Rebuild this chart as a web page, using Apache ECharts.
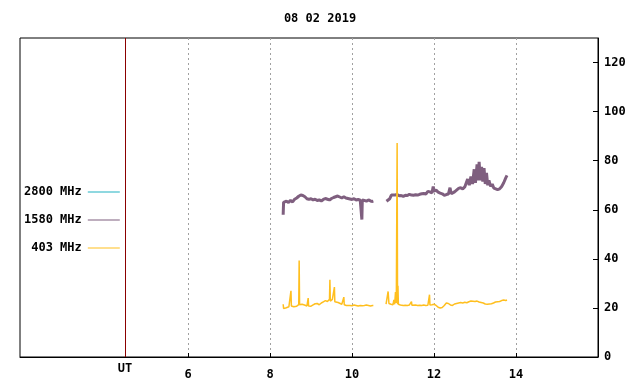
<!DOCTYPE html>
<html>
<head>
<meta charset="utf-8">
<script src="https://cdn.jsdelivr.net/npm/echarts@6/dist/echarts.min.js"></script>
<style>
  html, body { margin: 0; padding: 0; background: #fff; }
  #chart { width: 640px; height: 384px; }
</style>
</head>
<body>
<div id="chart"></div>
<script>
// chart text
const titleText = '08 02 2019';
const seriesNames = ['2800 MHz', '1580 MHz', ' 403 MHz'];
const xTicks = [6, 8, 10, 12, 14];
const utHour = 4.46;

// 1580 MHz (hours UT / values), null = gap
const t1580 = [8.32, 8.33, 8.40, 8.45, 8.50, 8.55, 8.60, 8.65, 8.70, 8.75, 8.80, 8.85, 8.90, 8.95,
  9.00, 9.05, 9.10, 9.15, 9.20, 9.25, 9.30, 9.35, 9.40, 9.45, 9.50, 9.55, 9.60, 9.65, 9.70, 9.75,
  9.80, 9.85, 9.90, 9.95, 10.00, 10.05, 10.10, 10.15, 10.20, 10.23, 10.24, 10.25, 10.30, 10.35,
  10.40, 10.45, 10.50, 10.52, 10.68,
  10.84, 10.88, 10.92, 10.96, 11.00, 11.05, 11.10, 11.15, 11.20, 11.25, 11.30, 11.35, 11.40, 11.45,
  11.50, 11.55, 11.60, 11.65, 11.70, 11.75, 11.80, 11.85, 11.90, 11.95, 11.98, 12.00, 12.05, 12.10,
  12.15, 12.20, 12.25, 12.30, 12.35, 12.39, 12.42, 12.45, 12.50, 12.55, 12.60, 12.65, 12.70, 12.75,
  12.78, 12.82, 12.86, 12.90, 12.94, 12.98, 13.01, 13.05, 13.08, 13.10, 13.13, 13.16, 13.19, 13.22,
  13.25, 13.28, 13.31, 13.34, 13.38, 13.42, 13.46, 13.50, 13.55, 13.60, 13.65, 13.70, 13.75, 13.78];
const v1580 = [58, 63, 63.5, 63, 63.8, 63.2, 64.3, 64.8, 65.5, 66, 65.8, 65.3, 64.5, 64.2,
  64.5, 64, 64.3, 63.8, 64, 63.6, 64.2, 64.6, 64.3, 64, 64.6, 65, 65.3, 65.6, 65.2, 64.8,
  65.3, 64.8, 64.6, 64.4, 64.2, 64.5, 64, 64.2, 63.9, 64, 56, 64, 63.8, 63.5,
  64, 63.6, 63.4, 63.5, null,
  63.5, 63, 64.5, 66, 66.5, 66, 66.2, 65.7, 65.8, 65.5, 65.9, 65.8, 66.3, 66,
  65.9, 66.1, 66, 66.3, 66.5, 66.6, 66.4, 67.5, 67.3, 66.8, 69.5, 67.6, 68, 67.2,
  66.8, 66.5, 65.9, 66.2, 66.4, 69, 66.5, 67, 67.3, 68, 68.7, 69, 68.5, 69.3,
  70, 72.5, 70, 73.5, 70.5, 76.5, 71, 78.5, 72, 79.5, 72, 77.5, 71.5, 77,
  70.5, 75, 70, 72, 69.5, 70.5, 68.8, 69.3, 68.2, 68.5, 69.5, 71, 73, 74];

// 403 MHz
const t403 = [8.32, 8.33, 8.38, 8.42, 8.46, 8.50, 8.51, 8.52, 8.58, 8.65, 8.70, 8.71, 8.72, 8.78,
  8.84, 8.90, 8.93, 8.94, 9.00, 9.05, 9.10, 9.15, 9.20, 9.25, 9.30, 9.35, 9.40, 9.45, 9.46, 9.47,
  9.52, 9.56, 9.57, 9.58, 9.62, 9.66, 9.70, 9.75, 9.80, 9.81, 9.86, 9.90, 9.95, 10.00, 10.05,
  10.10, 10.15, 10.20, 10.25, 10.30, 10.35, 10.40, 10.45, 10.50, 10.52, 10.68,
  10.83, 10.86, 10.88, 10.90, 10.95, 11.00, 11.02, 11.04, 11.06, 11.08, 11.10, 11.11, 11.12, 11.13,
  11.18, 11.25, 11.30, 11.35, 11.40, 11.45, 11.46, 11.50, 11.55, 11.60, 11.65, 11.70, 11.75, 11.80,
  11.85, 11.89, 11.90, 11.95, 12.00, 12.05, 12.10, 12.15, 12.20, 12.25, 12.30, 12.35, 12.40, 12.45,
  12.50, 12.55, 12.60, 12.65, 12.70, 12.75, 12.80, 12.85, 12.90, 12.95, 13.00, 13.05, 13.10, 13.15,
  13.20, 13.25, 13.30, 13.35, 13.40, 13.45, 13.50, 13.55, 13.60, 13.65, 13.70, 13.75, 13.78];
const v403 = [21.5, 19.8, 20, 20.2, 20.5, 21, 27, 20.8, 20.5, 20.7, 21.3, 39.3, 21.3, 21.5,
  21.2, 20.8, 24, 20.8, 20.7, 21.2, 21.7, 21.8, 21.3, 22, 22.5, 23, 22.6, 23.5, 31.5, 22.8,
  23.5, 22.8, 28.5, 22.5, 22, 22.2, 21.8, 21.5, 24.4, 21.3, 21, 21.2, 21, 20.9, 21.2,
  21, 20.8, 21, 20.9, 21, 21.2, 21, 20.8, 21, 21, null,
  21.5, 22, 26.7, 21.8, 21.5, 21.3, 23.3, 21.5, 26.5, 22, 87.2, 21.5, 29, 21.5,
  21.2, 21, 21.1, 21, 21.2, 22.6, 21.1, 21, 21.2, 21, 21.1, 21, 21.2, 21,
  21.1, 25.4, 21.2, 21.3, 21.5, 21, 20.3, 20, 20.2, 21, 22, 21.8, 21.2, 21,
  21.6, 21.8, 22, 22.2, 22, 22.3, 22.1, 22.5, 22.8, 22.7, 22.6, 22.8, 22.4, 22.2,
  22, 21.6, 21.5, 21.6, 21.7, 22, 22.4, 22.5, 22.6, 23, 23.2, 23, 23.2];

const t2800 = [];
const v2800 = [];

const colors = ['#20b2c2', '#7f5f7f', '#ffbf1f'];
const font = 'DejaVu Sans Mono';

function pairs(t, v) {
  return t.map((x, i) => [x, v[i]]);
}

const chart = echarts.init(document.getElementById('chart'), null, { renderer: 'canvas' });

var option = {
  animation: false,
  backgroundColor: '#fff',
  title: {
    text: titleText,
    left: 'center',
    top: 8,
    textStyle: { fontFamily: font, fontSize: 12, fontWeight: 'bold', color: '#000' }
  },
  legend: {
    orient: 'vertical',
    left: 19,
    top: 180,
    align: 'right',
    icon: 'rect',
    itemWidth: 32,
    itemHeight: 1,
    itemGap: 14,
    data: seriesNames,
    textStyle: { fontFamily: font, fontSize: 12, fontWeight: 'bold', color: '#000', lineHeight: 14, padding: [0, 1, 0, 0] }
  },
  grid: {
    left: 20,
    right: 42,
    top: 38,
    bottom: 27,
    show: true,
    borderColor: '#000',
    borderWidth: 1
  },
  xAxis: {
    type: 'value',
    min: 1.9,
    max: 16,
    axisLine: { show: true, lineStyle: { color: '#000' } },
    axisTick: { show: true, inside: true, length: 4, customValues: xTicks, lineStyle: { color: '#000' } },
    axisLabel: {
      customValues: xTicks,
      margin: 12,
      fontFamily: font, fontSize: 12, fontWeight: 'bold', color: '#000'
    },
    splitLine: { show: true, lineStyle: { color: '#a0a0a0', type: [2, 3] } }
  },
  yAxis: {
    type: 'value',
    position: 'right',
    min: 0,
    max: 130,
    interval: 20,
    axisLine: { show: true, lineStyle: { color: '#000' } },
    axisTick: { show: true, inside: true, length: 5, lineStyle: { color: '#000' } },
    axisLabel: {
      showMaxLabel: false,
      margin: 6,
      fontFamily: font, fontSize: 12, fontWeight: 'bold', color: '#000'
    },
    splitLine: { show: false }
  },
  series: [
    {
      name: seriesNames[0],
      type: 'line',
      data: pairs(t2800, v2800),
      showSymbol: false,
      symbol: 'none',
      lineStyle: { color: colors[0], width: 1 },
      itemStyle: { color: colors[0] }
    },
    {
      name: seriesNames[1],
      type: 'line',
      data: pairs(t1580, v1580),
      showSymbol: false,
      symbol: 'none',
      connectNulls: false,
      lineStyle: { color: colors[1], width: 3 },
      itemStyle: { color: colors[1] }
    },
    {
      name: seriesNames[2],
      type: 'line',
      data: pairs(t403, v403),
      showSymbol: false,
      symbol: 'none',
      connectNulls: false,
      lineStyle: { color: colors[2], width: 1.5 },
      itemStyle: { color: colors[2] },
      markLine: {
        silent: true,
        symbol: 'none',
        lineStyle: { color: '#8b0000', type: 'solid', width: 1 },
        label: {
          show: true,
          position: 'start',
          distance: 6,
          formatter: 'UT',
          fontFamily: font, fontSize: 12, fontWeight: 'bold', color: '#000'
        },
        data: [{ xAxis: utHour }]
      }
    }
  ]
};

chart.setOption(option);
</script>
</body>
</html>
